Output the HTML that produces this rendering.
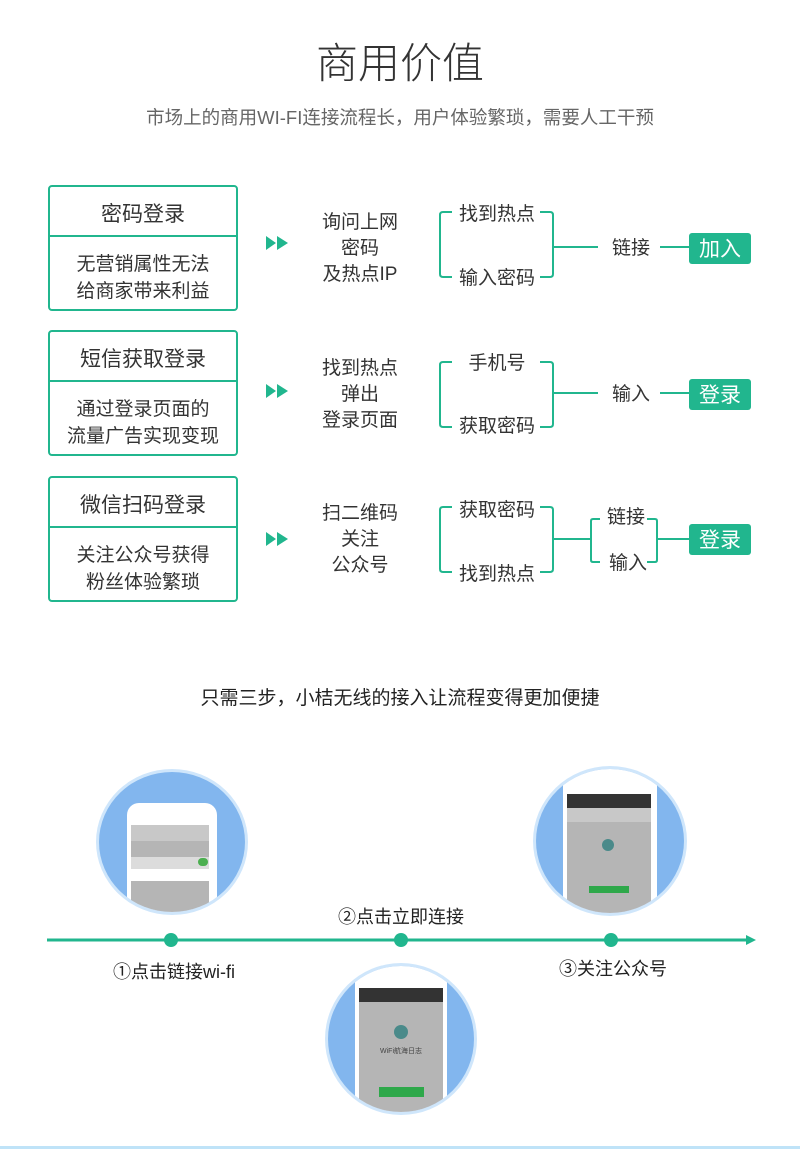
<!DOCTYPE html>
<html><head><meta charset="utf-8"><style>
html,body{margin:0;padding:0;background:#fff;}
svg{display:block;}
text{font-family:"Liberation Sans","Noto Sans CJK SC",sans-serif;}
</style></head><body>
<svg width="800" height="1149" viewBox="0 0 800 1149" xmlns="http://www.w3.org/2000/svg">
<defs>
<clipPath id="c1"><ellipse cx="172" cy="842" rx="73" ry="70"/></clipPath>
<clipPath id="c2"><ellipse cx="401" cy="1039" rx="73" ry="73"/></clipPath>
<clipPath id="c3"><ellipse cx="610" cy="841" rx="74" ry="72"/></clipPath>
</defs>
<text x="400" y="78" font-size="42" fill="#333" text-anchor="middle" font-weight="300">商用价值</text>
<text x="400" y="124" font-size="18.5" fill="#666" text-anchor="middle">市场上的商用WI-FI连接流程长，用户体验繁琐，需要人工干预</text>

<g>
<rect x="49" y="186" width="188" height="124" rx="3" fill="none" stroke="#21b68e" stroke-width="2"/>
<line x1="49" y1="236" x2="237" y2="236" stroke="#21b68e" stroke-width="2"/>
<text x="143" y="221" font-size="21" fill="#333" text-anchor="middle">密码登录</text>
<text x="143" y="270" font-size="19" fill="#333" text-anchor="middle">无营销属性无法</text>
<text x="143" y="297" font-size="19" fill="#333" text-anchor="middle">给商家带来利益</text>
<path d="M266 236 L276 243 L266 250Z M277 236 L288 243 L277 250Z" fill="#21b68e"/>
<text x="360" y="228" font-size="19" fill="#333" text-anchor="middle">询问上网</text>
<text x="360" y="254" font-size="19" fill="#333" text-anchor="middle">密码</text>
<text x="360" y="280" font-size="19" fill="#333" text-anchor="middle">及热点IP</text>
<path d="M452 212 H443 Q440 212 440 215 V274 Q440 277 443 277 H452" fill="none" stroke="#21b68e" stroke-width="2"/>
<path d="M540 212 H550 Q553 212 553 215 V274 Q553 277 550 277 H540" fill="none" stroke="#21b68e" stroke-width="2"/>
<text x="497" y="220" font-size="19" fill="#333" text-anchor="middle">找到热点</text>
<text x="497" y="284" font-size="19" fill="#333" text-anchor="middle">输入密码</text>
<line x1="553" y1="247" x2="598" y2="247" stroke="#21b68e" stroke-width="2"/>
<text x="631" y="254" font-size="19" fill="#333" text-anchor="middle">链接</text>
<line x1="660" y1="247" x2="690" y2="247" stroke="#21b68e" stroke-width="2"/>
<rect x="689" y="233" width="62" height="31" rx="3" fill="#21b68e"/>
<text x="720" y="256" font-size="21" fill="#fff" text-anchor="middle">加入</text>
</g>

<g>
<rect x="49" y="331" width="188" height="124" rx="3" fill="none" stroke="#21b68e" stroke-width="2"/>
<line x1="49" y1="381" x2="237" y2="381" stroke="#21b68e" stroke-width="2"/>
<text x="143" y="366" font-size="21" fill="#333" text-anchor="middle">短信获取登录</text>
<text x="143" y="415" font-size="19" fill="#333" text-anchor="middle">通过登录页面的</text>
<text x="143" y="442" font-size="19" fill="#333" text-anchor="middle">流量广告实现变现</text>
<path d="M266 384 L276 391 L266 398Z M277 384 L288 391 L277 398Z" fill="#21b68e"/>
<text x="360" y="374" font-size="19" fill="#333" text-anchor="middle">找到热点</text>
<text x="360" y="400" font-size="19" fill="#333" text-anchor="middle">弹出</text>
<text x="360" y="426" font-size="19" fill="#333" text-anchor="middle">登录页面</text>
<path d="M452 362 H443 Q440 362 440 365 V424 Q440 427 443 427 H452" fill="none" stroke="#21b68e" stroke-width="2"/>
<path d="M540 362 H550 Q553 362 553 365 V424 Q553 427 550 427 H540" fill="none" stroke="#21b68e" stroke-width="2"/>
<text x="497" y="369" font-size="19" fill="#333" text-anchor="middle">手机号</text>
<text x="497" y="432" font-size="19" fill="#333" text-anchor="middle">获取密码</text>
<line x1="553" y1="393" x2="598" y2="393" stroke="#21b68e" stroke-width="2"/>
<text x="631" y="400" font-size="19" fill="#333" text-anchor="middle">输入</text>
<line x1="660" y1="393" x2="690" y2="393" stroke="#21b68e" stroke-width="2"/>
<rect x="689" y="379" width="62" height="31" rx="3" fill="#21b68e"/>
<text x="720" y="402" font-size="21" fill="#fff" text-anchor="middle">登录</text>
</g>

<g>
<rect x="49" y="477" width="188" height="124" rx="3" fill="none" stroke="#21b68e" stroke-width="2"/>
<line x1="49" y1="527" x2="237" y2="527" stroke="#21b68e" stroke-width="2"/>
<text x="143" y="512" font-size="21" fill="#333" text-anchor="middle">微信扫码登录</text>
<text x="143" y="561" font-size="19" fill="#333" text-anchor="middle">关注公众号获得</text>
<text x="143" y="588" font-size="19" fill="#333" text-anchor="middle">粉丝体验繁琐</text>
<path d="M266 532 L276 539 L266 546Z M277 532 L288 539 L277 546Z" fill="#21b68e"/>
<text x="360" y="519" font-size="19" fill="#333" text-anchor="middle">扫二维码</text>
<text x="360" y="545" font-size="19" fill="#333" text-anchor="middle">关注</text>
<text x="360" y="571" font-size="19" fill="#333" text-anchor="middle">公众号</text>
<path d="M452 507 H443 Q440 507 440 510 V569 Q440 572 443 572 H452" fill="none" stroke="#21b68e" stroke-width="2"/>
<path d="M540 507 H550 Q553 507 553 510 V569 Q553 572 550 572 H540" fill="none" stroke="#21b68e" stroke-width="2"/>
<text x="497" y="516" font-size="19" fill="#333" text-anchor="middle">获取密码</text>
<text x="497" y="580" font-size="19" fill="#333" text-anchor="middle">找到热点</text>
<line x1="553" y1="539" x2="590" y2="539" stroke="#21b68e" stroke-width="2"/>
<path d="M600 519 H593 Q591 519 591 521 V560 Q591 562 593 562 H600" fill="none" stroke="#21b68e" stroke-width="2"/>
<path d="M647 519 H655 Q657 519 657 521 V560 Q657 562 655 562 H647" fill="none" stroke="#21b68e" stroke-width="2"/>
<text x="626" y="523" font-size="19" fill="#333" text-anchor="middle">链接</text>
<text x="628" y="569" font-size="19" fill="#333" text-anchor="middle">输入</text>
<line x1="657" y1="539" x2="690" y2="539" stroke="#21b68e" stroke-width="2"/>
<rect x="689" y="524" width="62" height="31" rx="3" fill="#21b68e"/>
<text x="720" y="547" font-size="21" fill="#fff" text-anchor="middle">登录</text>
</g>

<text x="400" y="704" font-size="19" fill="#222" text-anchor="middle">只需三步，小桔无线的接入让流程变得更加便捷</text>

<ellipse cx="172" cy="842" rx="76" ry="73" fill="#cfe6fb"/>
<ellipse cx="172" cy="842" rx="73" ry="70" fill="#82b6ee"/>
<g clip-path="url(#c1)">
<rect x="127" y="803" width="90" height="140" rx="12" fill="#fff"/>
<rect x="131" y="825" width="78" height="100" fill="#b5b5b5"/>
<rect x="131" y="825" width="78" height="16" fill="#c8c8c8"/>
<rect x="131" y="857" width="78" height="12" fill="#dcdcdc"/>
<rect x="131" y="869" width="78" height="12" fill="#fff"/>
<rect x="198" y="858" width="10" height="8" rx="4" fill="#4caf50"/>
</g>
<ellipse cx="401" cy="1039" rx="76" ry="76" fill="#cfe6fb"/>
<ellipse cx="401" cy="1039" rx="73" ry="73" fill="#82b6ee"/>
<g clip-path="url(#c2)">
<rect x="355" y="965" width="92" height="160" rx="12" fill="#fff"/>
<rect x="359" y="988" width="84" height="130" fill="#b5b5b5"/>
<rect x="359" y="988" width="84" height="14" fill="#333"/>
<circle cx="401" cy="1032" r="7" fill="#4a8a8a"/>
<text x="401" y="1053" font-size="7" fill="#444" text-anchor="middle">WiFi航海日志</text>
<rect x="379" y="1087" width="45" height="10" fill="#2ea84a"/>
</g>
<ellipse cx="610" cy="841" rx="77" ry="75" fill="#cfe6fb"/>
<ellipse cx="610" cy="841" rx="74" ry="72" fill="#82b6ee"/>
<g clip-path="url(#c3)">
<rect x="563" y="768" width="94" height="160" rx="12" fill="#fff"/>
<rect x="567" y="794" width="84" height="120" fill="#b5b5b5"/>
<rect x="567" y="794" width="84" height="14" fill="#333"/>
<rect x="567" y="808" width="84" height="14" fill="#c8c8c8"/>
<circle cx="608" cy="845" r="6" fill="#4a8a8a"/>
<rect x="589" y="886" width="40" height="7" fill="#2ea84a"/>
</g>

<line x1="47" y1="940" x2="748" y2="940" stroke="#21b68e" stroke-width="3"/>
<path d="M746 935 L756 940 L746 945Z" fill="#21b68e"/>
<circle cx="171" cy="940" r="7" fill="#21b68e"/>
<circle cx="401" cy="940" r="7" fill="#21b68e"/>
<circle cx="611" cy="940" r="7" fill="#21b68e"/>
<text x="401" y="923" font-size="18" fill="#222" text-anchor="middle">②点击立即连接</text>
<text x="174" y="978" font-size="18" fill="#222" text-anchor="middle">①点击链接wi-fi</text>
<text x="613" y="975" font-size="18" fill="#222" text-anchor="middle">③关注公众号</text>
<rect x="0" y="1146" width="800" height="3" fill="#bfe3f8"/>
</svg>
</body></html>
